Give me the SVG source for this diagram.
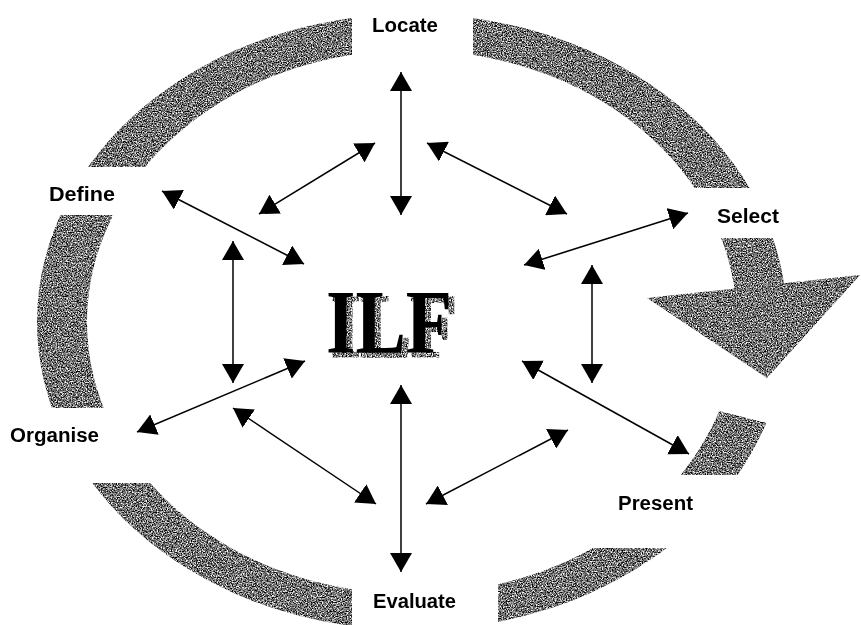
<svg xmlns="http://www.w3.org/2000/svg" width="861" height="625" viewBox="0 0 861 625">
<defs>
<style>
.lbl{font-family:"Liberation Sans",Arial,sans-serif;font-weight:bold;font-size:20px;fill:#000}
.conn line{stroke:#000;stroke-width:1.5;fill:none;marker-start:url(#ah);marker-end:url(#ah)}
.ring{fill:#777}
.ilf{font-family:"Liberation Serif","Times New Roman",serif;font-weight:bold;font-size:90px}
</style>
<marker id="ah" viewBox="0 0 19 22" refX="19" refY="11" markerWidth="19" markerHeight="22" markerUnits="userSpaceOnUse" orient="auto-start-reverse">
<path d="M0,0 L19,11 L0,22 z" fill="#000"/>
</marker>
<filter id="grain" filterUnits="userSpaceOnUse" x="0" y="0" width="861" height="625" color-interpolation-filters="sRGB">
<feTurbulence type="fractalNoise" baseFrequency="0.8" numOctaves="2" seed="7" result="noise"/>
<feColorMatrix in="noise" type="matrix" values="2.3 0 0 0 -0.7  2.3 0 0 0 -0.7  2.3 0 0 0 -0.7  0 0 0 0 1" result="tone"/>
<feComposite in="tone" in2="SourceAlpha" operator="in"/>
</filter>
<filter id="extrude" filterUnits="userSpaceOnUse" x="300" y="260" width="200" height="120" color-interpolation-filters="sRGB">
<feOffset in="SourceAlpha" dx="5" dy="4" result="off"/>
<feMorphology in="off" operator="dilate" radius="1" result="offd"/>
<feTurbulence type="fractalNoise" baseFrequency="0.8" numOctaves="2" seed="3" result="noise"/>
<feColorMatrix in="noise" type="matrix" values="2.3 0 0 0 -0.65  2.3 0 0 0 -0.65  2.3 0 0 0 -0.65  0 0 0 0 1" result="tone"/>
<feComposite in="tone" in2="offd" operator="in" result="sh"/>
<feMerge><feMergeNode in="sh"/><feMergeNode in="SourceGraphic"/></feMerge>
</filter>
<clipPath id="ringclip">
<rect x="0" y="0" width="352" height="167"/>
<rect x="473" y="0" width="388" height="188"/>
<rect x="0" y="215" width="200" height="193"/>
<rect x="0" y="483" width="352" height="142"/>
<rect x="498" y="548" width="363" height="77"/>
<polygon points="680,401 810,434 810,475 680,475"/>
<polygon points="690,238 861,238 861,275 690,294"/>
</clipPath>
</defs>
<rect width="861" height="625" fill="#fff"/>
<g id="cycle" filter="url(#grain)">
<path class="ring" clip-path="url(#ringclip)" fill-rule="evenodd" d="M37,322 A375,308 0 1,0 787,322 A375,308 0 1,0 37,322 Z M87,322 A325,272 0 1,0 737,322 A325,272 0 1,0 87,322 Z"/>
<polygon class="ring" points="647,298 860,275 767,378"/>
</g>
<g id="connectors" class="conn">
<line x1="401" y1="72" x2="401" y2="215"/>
<line x1="375" y1="143" x2="259" y2="214"/>
<line x1="427" y1="143" x2="567" y2="214"/>
<line x1="688" y1="213" x2="524" y2="265"/>
<line x1="162" y1="191" x2="304" y2="264"/>
<line x1="233" y1="241" x2="233" y2="383"/>
<line x1="592" y1="265" x2="592" y2="383"/>
<line x1="305" y1="361" x2="137" y2="432"/>
<line x1="233" y1="408" x2="376" y2="504"/>
<line x1="401" y1="385" x2="401" y2="572"/>
<line x1="568" y1="430" x2="426" y2="504"/>
<line x1="522" y1="361" x2="689" y2="454"/>
</g>
<g id="ilf">
<text class="ilf" x="326" y="353" textLength="126" lengthAdjust="spacingAndGlyphs" fill="#000" filter="url(#extrude)">ILF</text>
</g>
<g id="locate"><text class="lbl" x="372" y="32" textLength="66" lengthAdjust="spacingAndGlyphs">Locate</text></g>
<g id="define"><text class="lbl" x="49" y="201" textLength="66" lengthAdjust="spacingAndGlyphs">Define</text></g>
<g id="select"><text class="lbl" x="717" y="223" textLength="62" lengthAdjust="spacingAndGlyphs">Select</text></g>
<g id="organise"><text class="lbl" x="10" y="442" textLength="89" lengthAdjust="spacingAndGlyphs">Organise</text></g>
<g id="present"><text class="lbl" x="618" y="510" textLength="75" lengthAdjust="spacingAndGlyphs">Present</text></g>
<g id="evaluate"><text class="lbl" x="373" y="608" textLength="83" lengthAdjust="spacingAndGlyphs">Evaluate</text></g>
</svg>
